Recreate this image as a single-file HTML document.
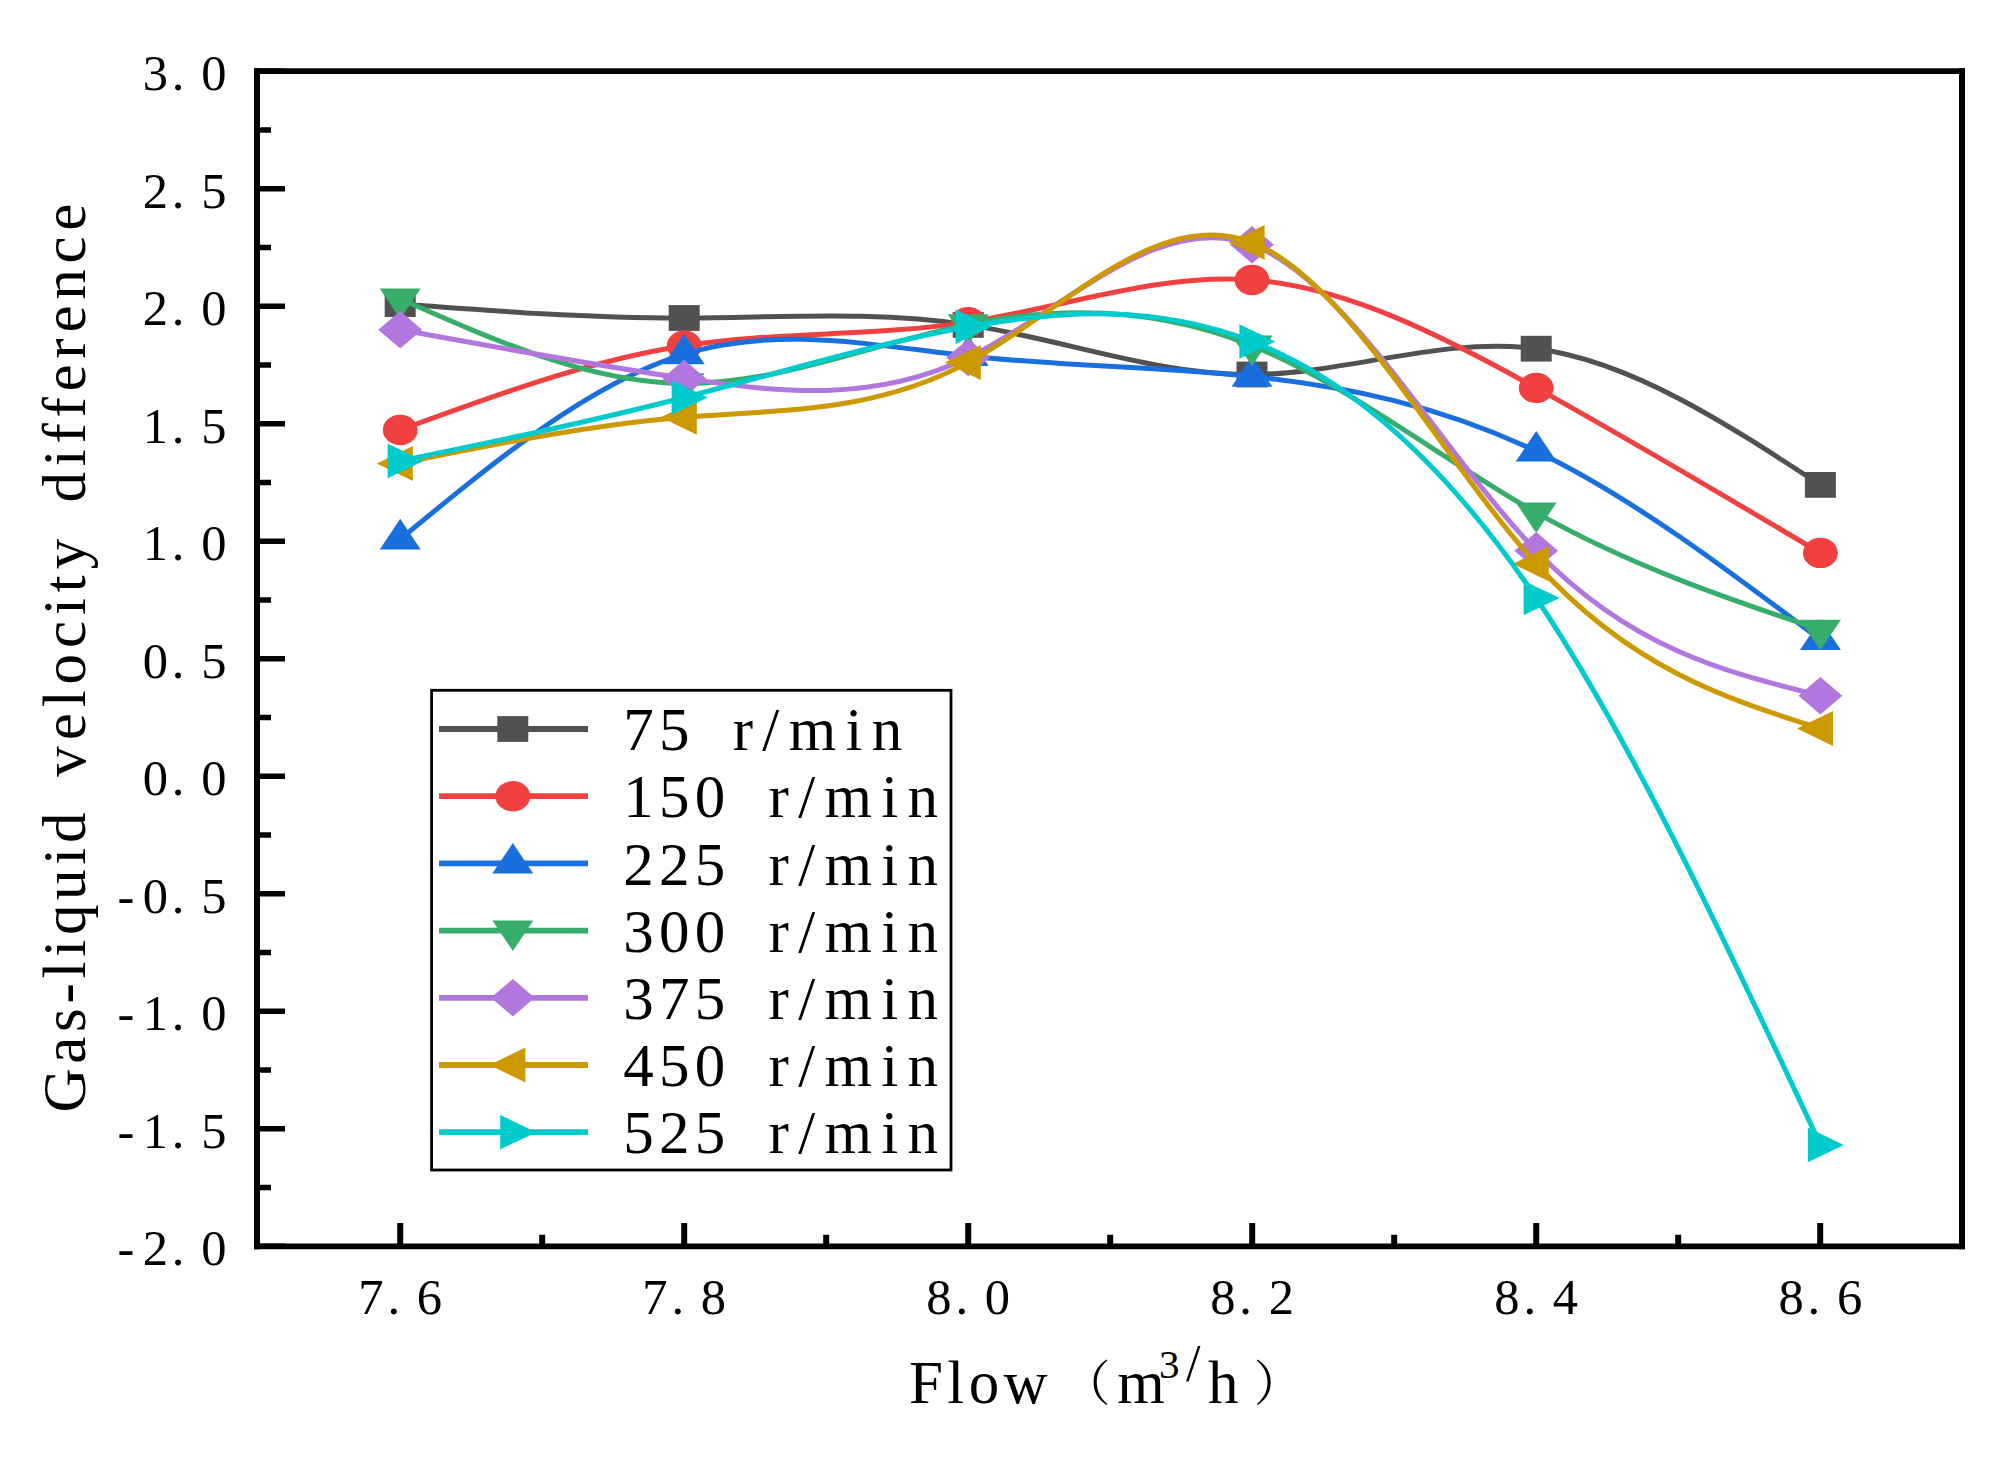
<!DOCTYPE html>
<html><head><meta charset="utf-8"><title>Gas-liquid velocity difference vs Flow</title>
<style>
html,body{margin:0;padding:0;background:#fff}
svg{display:block}
text{font-family:"Liberation Serif","Noto Serif CJK SC",serif;fill:#000}
.tk{font-size:50.5px}
.lg{font-size:61px}
</style></head><body>
<svg width="2015" height="1460" viewBox="0 0 2015 1460">
<rect width="2015" height="1460" fill="#fff"/>
<g fill="none" stroke-width="5" stroke-linejoin="round">
<path d="M400.2,304.1C494.87,311.12 589.53,318.14 684.2,318C778.87,317.86 873.53,310.56 968.2,324.9C1062.8,339.23 1157.4,375.18 1252,374.5C1346.73,373.82 1441.47,336.42 1536.2,348.7C1630.93,360.98 1725.67,422.94 1820.4,484.9" stroke="#515151"/>
<g stroke="none"><rect x="384.7" y="291.2" width="31" height="25.8" fill="#515151"/><rect x="668.7" y="305.1" width="31" height="25.8" fill="#515151"/><rect x="952.7" y="312" width="31" height="25.8" fill="#515151"/><rect x="1236.5" y="361.6" width="31" height="25.8" fill="#515151"/><rect x="1520.7" y="335.8" width="31" height="25.8" fill="#515151"/><rect x="1804.9" y="472" width="31" height="25.8" fill="#515151"/></g>
<path d="M400.2,430C494.87,395.22 589.53,360.45 684.2,345.8C778.87,331.15 873.53,336.64 968.2,322.1C1062.8,307.57 1157.4,273.06 1252,280C1346.73,286.95 1441.47,335.49 1536.2,387.9C1630.93,440.31 1725.67,496.61 1820.4,552.9" stroke="#F14040"/>
<g stroke="none"><ellipse cx="400.2" cy="430" rx="17.4" ry="15.2" fill="#F14040"/><ellipse cx="684.2" cy="345.8" rx="17.4" ry="15.2" fill="#F14040"/><ellipse cx="968.2" cy="322.1" rx="17.4" ry="15.2" fill="#F14040"/><ellipse cx="1252" cy="280" rx="17.4" ry="15.2" fill="#F14040"/><ellipse cx="1536.2" cy="387.9" rx="17.4" ry="15.2" fill="#F14040"/><ellipse cx="1820.4" cy="552.9" rx="17.4" ry="15.2" fill="#F14040"/></g>
<path d="M400.2,539.2C494.87,461.09 589.53,382.99 684.2,354.1C778.87,325.21 873.53,345.55 968.2,355.9C1062.8,366.24 1157.4,366.62 1252,376.5C1346.73,386.4 1441.47,405.83 1536.2,451.3C1630.93,496.77 1725.67,568.29 1820.4,639.8" stroke="#1A6FDF"/>
<g stroke="none"><polygon points="379.7,549.4 420.7,549.4 400.2,518.8" fill="#1A6FDF"/><polygon points="663.7,364.3 704.7,364.3 684.2,333.7" fill="#1A6FDF"/><polygon points="947.7,366.1 988.7,366.1 968.2,335.5" fill="#1A6FDF"/><polygon points="1231.5,386.7 1272.5,386.7 1252,356.1" fill="#1A6FDF"/><polygon points="1515.7,461.5 1556.7,461.5 1536.2,430.9" fill="#1A6FDF"/><polygon points="1799.9,650 1840.9,650 1820.4,619.4" fill="#1A6FDF"/></g>
<path d="M400.2,298.8C494.87,340.74 589.53,382.67 684.2,383.4C778.87,384.13 873.53,343.64 968.2,324.4C1062.8,305.17 1157.4,307.16 1252,345.6C1346.73,384.09 1441.47,459.13 1536.2,512.6C1630.93,566.07 1725.67,597.99 1820.4,629.9" stroke="#37AD6B"/>
<g stroke="none"><polygon points="379.7,288.6 420.7,288.6 400.2,319.2" fill="#37AD6B"/><polygon points="663.7,373.2 704.7,373.2 684.2,403.8" fill="#37AD6B"/><polygon points="947.7,314.2 988.7,314.2 968.2,344.8" fill="#37AD6B"/><polygon points="1231.5,335.4 1272.5,335.4 1252,366" fill="#37AD6B"/><polygon points="1515.7,502.4 1556.7,502.4 1536.2,533" fill="#37AD6B"/><polygon points="1799.9,619.7 1840.9,619.7 1820.4,650.3" fill="#37AD6B"/></g>
<path d="M400.2,329.7C494.87,347.01 589.53,364.32 684.2,378.4C778.87,392.48 873.53,403.35 968.2,357.6C1062.8,311.89 1157.4,209.65 1252,244.7C1346.73,279.8 1441.47,452.59 1536.2,550.7C1630.93,648.81 1725.67,672.26 1820.4,695.7" stroke="#B177DE"/>
<g stroke="none"><polygon points="378.3,329.7 400.2,311 422.1,329.7 400.2,348.4" fill="#B177DE"/><polygon points="662.3,378.4 684.2,359.7 706.1,378.4 684.2,397.1" fill="#B177DE"/><polygon points="946.3,357.6 968.2,338.9 990.1,357.6 968.2,376.3" fill="#B177DE"/><polygon points="1230.1,244.7 1252,226 1273.9,244.7 1252,263.4" fill="#B177DE"/><polygon points="1514.3,550.7 1536.2,532 1558.1,550.7 1536.2,569.4" fill="#B177DE"/><polygon points="1798.5,695.7 1820.4,677 1842.3,695.7 1820.4,714.4" fill="#B177DE"/></g>
<path d="M400.2,463.4C494.87,444.14 589.53,424.88 684.2,417.2C778.87,409.52 873.53,413.41 968.2,362.4C1062.8,311.43 1157.4,205.64 1252,242.4C1346.73,279.21 1441.47,458.96 1536.2,563.8C1630.93,668.64 1725.67,698.57 1820.4,728.5" stroke="#CC9900"/>
<g stroke="none"><polygon points="412.8,445.9 412.8,480.9 376.8,463.4" fill="#CC9900"/><polygon points="696.8,399.7 696.8,434.7 660.8,417.2" fill="#CC9900"/><polygon points="980.8,344.9 980.8,379.9 944.8,362.4" fill="#CC9900"/><polygon points="1264.6,224.9 1264.6,259.9 1228.6,242.4" fill="#CC9900"/><polygon points="1548.8,546.3 1548.8,581.3 1512.8,563.8" fill="#CC9900"/><polygon points="1833,711 1833,746 1797,728.5" fill="#CC9900"/></g>
<path d="M400.2,460.9C494.87,441.38 589.53,421.87 684.2,397.5C778.87,373.13 873.53,343.91 968.2,326.8C1062.8,309.7 1157.4,304.7 1252,341.5C1346.73,378.35 1441.47,457.11 1536.2,598C1630.93,738.89 1725.67,941.89 1820.4,1144.9" stroke="#00CBCC"/>
<g stroke="none"><polygon points="387.6,443.6 387.6,478.2 423.6,460.9" fill="#00CBCC"/><polygon points="671.6,380.2 671.6,414.8 707.6,397.5" fill="#00CBCC"/><polygon points="955.6,309.5 955.6,344.1 991.6,326.8" fill="#00CBCC"/><polygon points="1239.4,324.2 1239.4,358.8 1275.4,341.5" fill="#00CBCC"/><polygon points="1523.6,580.7 1523.6,615.3 1559.6,598" fill="#00CBCC"/><polygon points="1807.8,1127.6 1807.8,1162.2 1843.8,1144.9" fill="#00CBCC"/></g>
</g>
<path d="M257.0,71.2H1962.0M257.0,1246.3H1962.0" stroke="#000" stroke-width="5.7" fill="none" stroke-linecap="square"/>
<path d="M257.0,71.2V1246.3M1962.0,71.2V1246.3" stroke="#000" stroke-width="6" fill="none" stroke-linecap="square"/>
<path d="M257.0,71.2h28M257.0,129.95h14M257.0,188.71h28M257.0,247.46h14M257.0,306.22h28M257.0,364.97h14M257.0,423.73h28M257.0,482.48h14M257.0,541.24h28M257.0,600h14M257.0,658.75h28M257.0,717.5h14M257.0,776.26h28M257.0,835.01h14M257.0,893.77h28M257.0,952.52h14M257.0,1011.28h28M257.0,1070.03h14M257.0,1128.79h28M257.0,1187.54h14M257.0,1246.3h28" stroke="#000" stroke-width="5.6" fill="none"/>
<path d="M400.2,1246.3v-23.3M542.2,1246.3v-11.5M684.2,1246.3v-23.3M826.2,1246.3v-11.5M968.2,1246.3v-23.3M1110.2,1246.3v-11.5M1252.2,1246.3v-23.3M1394.2,1246.3v-11.5M1536.2,1246.3v-23.3M1678.2,1246.3v-11.5M1820.2,1246.3v-23.3" stroke="#000" stroke-width="6" fill="none"/>
<text class="tk" text-anchor="middle" x="155.25 177.99 213.75" y="90.2">3.0</text>
<text class="tk" text-anchor="middle" x="155.25 177.99 213.75" y="207.71">2.5</text>
<text class="tk" text-anchor="middle" x="155.25 177.99 213.75" y="325.22">2.0</text>
<text class="tk" text-anchor="middle" x="155.25 177.99 213.75" y="442.73">1.5</text>
<text class="tk" text-anchor="middle" x="155.25 177.99 213.75" y="560.24">1.0</text>
<text class="tk" text-anchor="middle" x="155.25 177.99 213.75" y="677.75">0.5</text>
<text class="tk" text-anchor="middle" x="155.25 177.99 213.75" y="795.26">0.0</text>
<text class="tk" text-anchor="middle" x="126 155.25 177.99 213.75" y="912.77">-0.5</text>
<text class="tk" text-anchor="middle" x="126 155.25 177.99 213.75" y="1030.28">-1.0</text>
<text class="tk" text-anchor="middle" x="126 155.25 177.99 213.75" y="1147.79">-1.5</text>
<text class="tk" text-anchor="middle" x="126 155.25 177.99 213.75" y="1265.3">-2.0</text>
<text class="tk" text-anchor="middle" x="370.95 393.69 429.45" y="1314.3">7.6</text>
<text class="tk" text-anchor="middle" x="654.95 677.69 713.45" y="1314.3">7.8</text>
<text class="tk" text-anchor="middle" x="938.95 961.69 997.45" y="1314.3">8.0</text>
<text class="tk" text-anchor="middle" x="1222.75 1245.49 1281.25" y="1314.3">8.2</text>
<text class="tk" text-anchor="middle" x="1506.95 1529.69 1565.45" y="1314.3">8.4</text>
<text class="tk" text-anchor="middle" x="1791.15 1813.89 1849.65" y="1314.3">8.6</text>
<rect x="431.6" y="690.3" width="519.4" height="479.7" fill="#fff" stroke="#000" stroke-width="2.8"/>
<path d="M439,729H588" stroke="#515151" stroke-width="5.8" fill="none"/>
<rect x="497.3" y="716.1" width="31" height="25.8" fill="#515151"/>
<text class="lg" text-anchor="middle" x="638.5 674.3 710.1 742.84 770.84 812.41 853.97 887.07" y="750.2">75 r/min</text>
<path d="M439,796.2H588" stroke="#F14040" stroke-width="5.8" fill="none"/>
<ellipse cx="512.8" cy="796.2" rx="17.4" ry="15.2" fill="#F14040"/>
<text class="lg" text-anchor="middle" x="638.5 674.3 710.1 745.9 778.64 806.64 848.21 889.77 922.87" y="817.4">150 r/min</text>
<path d="M439,863.4H588" stroke="#1A6FDF" stroke-width="5.8" fill="none"/>
<polygon points="492.3,873.6 533.3,873.6 512.8,843" fill="#1A6FDF"/>
<text class="lg" text-anchor="middle" x="638.5 674.3 710.1 745.9 778.64 806.64 848.21 889.77 922.87" y="884.6">225 r/min</text>
<path d="M439,930.6H588" stroke="#37AD6B" stroke-width="5.8" fill="none"/>
<polygon points="492.3,920.4 533.3,920.4 512.8,951" fill="#37AD6B"/>
<text class="lg" text-anchor="middle" x="638.5 674.3 710.1 745.9 778.64 806.64 848.21 889.77 922.87" y="951.8">300 r/min</text>
<path d="M439,997.8H588" stroke="#B177DE" stroke-width="5.8" fill="none"/>
<polygon points="490.9,997.8 512.8,979.1 534.7,997.8 512.8,1016.5" fill="#B177DE"/>
<text class="lg" text-anchor="middle" x="638.5 674.3 710.1 745.9 778.64 806.64 848.21 889.77 922.87" y="1019">375 r/min</text>
<path d="M439,1065H588" stroke="#CC9900" stroke-width="5.8" fill="none"/>
<polygon points="525.4,1047.5 525.4,1082.5 489.4,1065" fill="#CC9900"/>
<text class="lg" text-anchor="middle" x="638.5 674.3 710.1 745.9 778.64 806.64 848.21 889.77 922.87" y="1086.2">450 r/min</text>
<path d="M439,1132.2H588" stroke="#00CBCC" stroke-width="5.8" fill="none"/>
<polygon points="500.2,1114.9 500.2,1149.5 536.2,1132.2" fill="#00CBCC"/>
<text class="lg" text-anchor="middle" x="638.5 674.3 710.1 745.9 778.64 806.64 848.21 889.77 922.87" y="1153.4">525 r/min</text>
<text class="lg" text-anchor="middle" y="1403.3" x="925.88 955.76 983.93 1025.65">Flow<tspan font-size="48.5px" x="1086.3" y="1401.2">（</tspan><tspan x="1140.9" y="1403.3">m</tspan><tspan font-size="41px" x="1169.3" y="1378.2">3</tspan><tspan font-size="52px" x="1193.3" y="1381">/</tspan><tspan x="1223.2" y="1403.3">h</tspan><tspan font-size="48.5px" x="1278" y="1401.2">）</tspan></text>
<text class="lg" transform="rotate(-90)" text-anchor="middle" y="85" x="-1090.45 -1050.17 -1020.04 -993.3 -969.95 -948.29 -919.84 -884.63 -856.19 -827.74 -794.9 -761.46 -726.76 -698.85 -669.21 -634.52 -606.6 -583.74 -554.11 -520.67 -487.31 -457.83 -433.45 -407.39 -377.94 -348.5 -319.05 -284.51 -249.97 -217.15">Gas-liquid velocity difference</text>
</svg></body></html>
